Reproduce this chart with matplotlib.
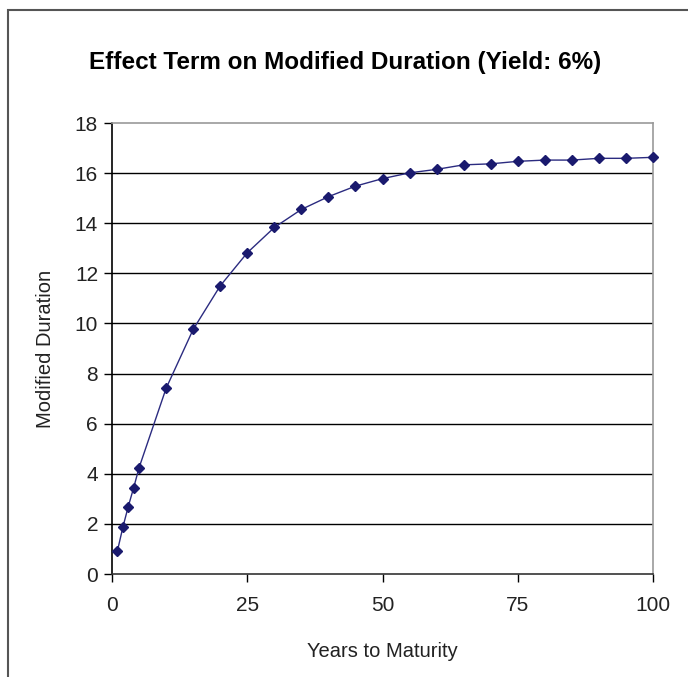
import matplotlib
matplotlib.use("Agg")
import matplotlib.pyplot as plt
from matplotlib.patches import Rectangle

plt.rcParams['font.family'] = ['Liberation Sans', 'DejaVu Sans']

# years to maturity and modified duration
years = [1, 2, 3, 4, 5, 10, 15, 20, 25, 30, 35, 40, 45, 50,
         55, 60, 65, 70, 75, 80, 85, 90, 95, 100]
duration = [0.92, 1.86, 2.69, 3.44, 4.24, 7.41, 9.76, 11.5, 12.82, 13.83, 14.55, 15.06, 15.48, 15.78,
            16.01, 16.15, 16.33, 16.37, 16.47, 16.52, 16.52, 16.59, 16.59, 16.63]

x_ticks = [0, 25, 50, 75, 100]
y_ticks = list(range(0, 19, 2))

W, H = 688, 677
fig = plt.figure(figsize=(W / 100, H / 100), dpi=100)

# chart area border (right/bottom run off the image)
fig.patches.append(Rectangle((8 / W, -0.1), 1.2, 1 - 10 / H + 0.1, transform=fig.transFigure,
                             fill=False, edgecolor='#555555', linewidth=1.5))

ax = fig.add_axes([112 / W, 1 - 574 / H, (653 - 112) / W, (574 - 123) / H])

ax.plot(years, duration, color='#2b2b80', linewidth=1.0, marker='D', markersize=5,
        markerfacecolor='#1a1a6e', markeredgecolor='#1a1a6e', clip_on=False, zorder=3)

ax.set_xlim(0, 100)
ax.set_ylim(0, 18)
ax.set_xticks(x_ticks)
ax.set_yticks(y_ticks)
ax.tick_params(axis='both', direction='out', length=6, width=1, colors='black',
               labelsize=15, labelcolor='#222222', pad=4)
ax.tick_params(axis='x', pad=10)

for yv in y_ticks[1:-1]:
    ax.axhline(yv, color='black', linewidth=1.0, zorder=1)

ax.spines['left'].set_color('black')
ax.spines['bottom'].set_color('#333333')
ax.spines['top'].set_color('#999999')
ax.spines['right'].set_color('#999999')
for s in ax.spines.values():
    s.set_linewidth(1.2)

ax.set_xlabel('Years to Maturity', fontsize=14.5, color='#222222', labelpad=19)
ax.set_ylabel('Modified Duration', fontsize=14.5, color='#222222', labelpad=14)

fig.text(345 / W, 1 - 62 / H, 'Effect Term on Modified Duration (Yield: 6%)',
         ha='center', va='center', fontsize=17.5, fontweight='bold')

fig.savefig('out.png', dpi=100)
